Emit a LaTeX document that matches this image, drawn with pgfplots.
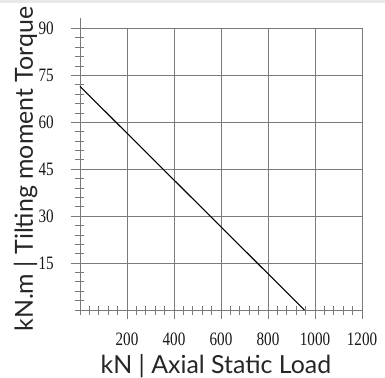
\documentclass[border=0pt]{standalone}
\usepackage{fontspec}
\setmainfont{Liberation Serif}
\newfontfamily\labelfont{Lato}
\newfontfamily\tickfont{Liberation Serif}[FakeStretch=0.8]
\usepackage{pgfplots}
\pgfplotsset{compat=1.18}
\definecolor{gridgray}{HTML}{7A7A7A}
\begin{document}
\begin{tikzpicture}[x=1bp,y=1bp]
\path[use as bounding box] (-80,-68) rectangle (305,310);
\fill[black!9] (-80,307) rectangle (305,310);
\begin{axis}[
  at={(0,0)}, anchor=south west,
  scale only axis, width=282bp, height=281.5bp,
  xmin=0, xmax=1200, ymin=0, ymax=90,
  axis lines=left,
  axis line style={-, draw=gridgray, line width=0.9bp},
  y axis line style={shorten >=-10bp},
  xtick={200,400,...,1200}, ytick={15,30,...,90},
  minor xtick={0,40,...,1200}, minor ytick={0,3,...,90},
  grid=major, major grid style={draw=gridgray, line width=0.9bp},
  tick style={draw=gridgray, line width=0.8bp},
  tick align=center, major tick length=18bp, minor tick length=9bp,
  /pgf/number format/assume math mode=true,
  /pgf/number format/1000 sep={},
  ticklabel style={font=\tickfont\fontsize{19}{19}\selectfont, text=black!90},
  yticklabel style={anchor=east, inner sep=0pt, xshift=-17bp},
  xticklabel style={anchor=north, inner sep=0pt, yshift=-14bp},
  clip=false,
  xlabel={kN | Axial Static Load},
  ylabel={kN.m | Tilting moment Torque},
  label style={font=\labelfont\fontsize{25}{25}\selectfont, text=black!85},
  xlabel style={at={(axis description cs:0.482,-0.2238)}, anchor=base},
  ylabel style={at={(axis description cs:-0.1667,0.5)}, anchor=base},
]
\addplot[black, line width=1.1bp] coordinates {(0,71.5) (955,0)};
\end{axis}
\end{tikzpicture}
\end{document}
